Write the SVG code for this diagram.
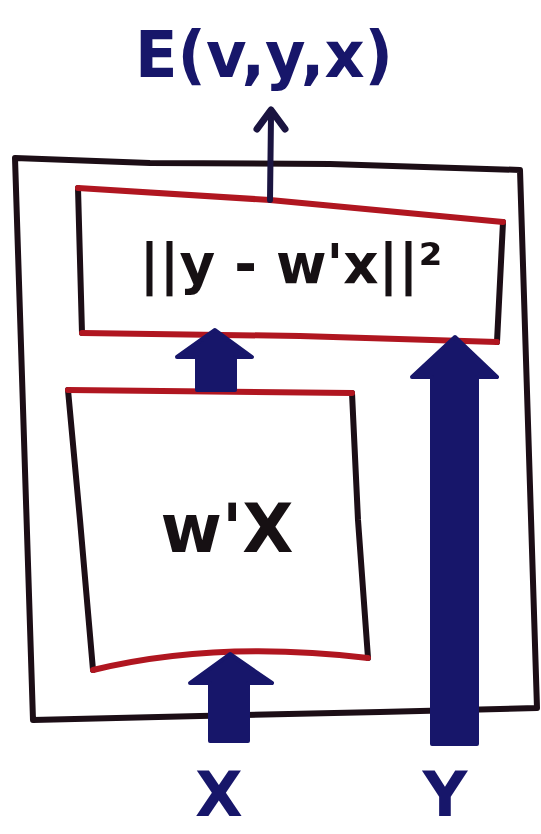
<svg xmlns="http://www.w3.org/2000/svg" width="541" height="834" viewBox="0 0 541 834">
<style>
.k{fill:none;stroke:#1c0e16;stroke-width:6;stroke-linecap:round;stroke-linejoin:round}
.r{fill:none;stroke:#b01620;stroke-width:6;stroke-linecap:round;stroke-linejoin:round}
.arr{fill:#17166a;stroke:#17166a;stroke-width:4;stroke-linejoin:round}
.tn{font-family:"DejaVu Sans","Liberation Sans",sans-serif;font-weight:bold;fill:#17166a}
.tk{font-family:"DejaVu Sans","Liberation Sans",sans-serif;font-weight:bold;fill:#161013}
</style>
<rect width="541" height="834" fill="#ffffff"/>
<g id="frame">
<path class="k" d="M33,720 L15,158 L150,163 L330,164 L520,170 L537,708 L380,712 L200,716 Z" fill="#ffffff"/>
</g>
<g id="loss">
<path d="M78,188 L270,200 L503,222 L497,342 L82,333 Z" fill="#ffffff"/>
<path class="k" d="M503,222 L497,342 M82,333 L78,188"/>
<path class="r" d="M78,188 L270,200 L503,222 M497,342 L300,336 L82,333"/>
<text class="tk" x="291" y="283" font-size="56" text-anchor="middle" textLength="303" lengthAdjust="spacingAndGlyphs">||y - w'x||²</text>
</g>
<g id="model">
<path d="M68,390 L352,393 L368,658 Q217,640 93,670 Z" fill="#ffffff"/>
<path class="k" d="M352,393 L358,520 L368,658 M93,670 L80,520 L68,390"/>
<path class="r" d="M68,390 L352,393 M368,658 Q217,640 93,670"/>
<text class="tk" x="227" y="552" font-size="68" text-anchor="middle" textLength="133" lengthAdjust="spacingAndGlyphs">w'X</text>
</g>
<g id="connectors">
<path d="M270,200 L271,116" fill="none" stroke="#1a1440" stroke-width="6" stroke-linecap="round"/>
<path d="M257,129 L271,110 L285,129" fill="none" stroke="#1a1440" stroke-width="7" stroke-linecap="round" stroke-linejoin="round"/>
<polygon class="arr" points="215,330 252,357 235,357 235,390 197,390 197,357 177,357"/>
<polygon class="arr" points="230,654 272,683 248,683 248,741 210,741 210,683 190,683"/>
<polygon class="arr" points="455,337 497,377 477,377 477,744 432,744 432,377 412,377"/>
</g>
<g id="labels">
<text class="tn" x="264" y="77" font-size="64" text-anchor="middle" textLength="258" lengthAdjust="spacingAndGlyphs">E(v,y,x)</text>
<text class="tn" x="219" y="816" font-size="62" text-anchor="middle">X</text>
<text class="tn" x="445" y="816" font-size="62" text-anchor="middle">Y</text>
</g>
</svg>
